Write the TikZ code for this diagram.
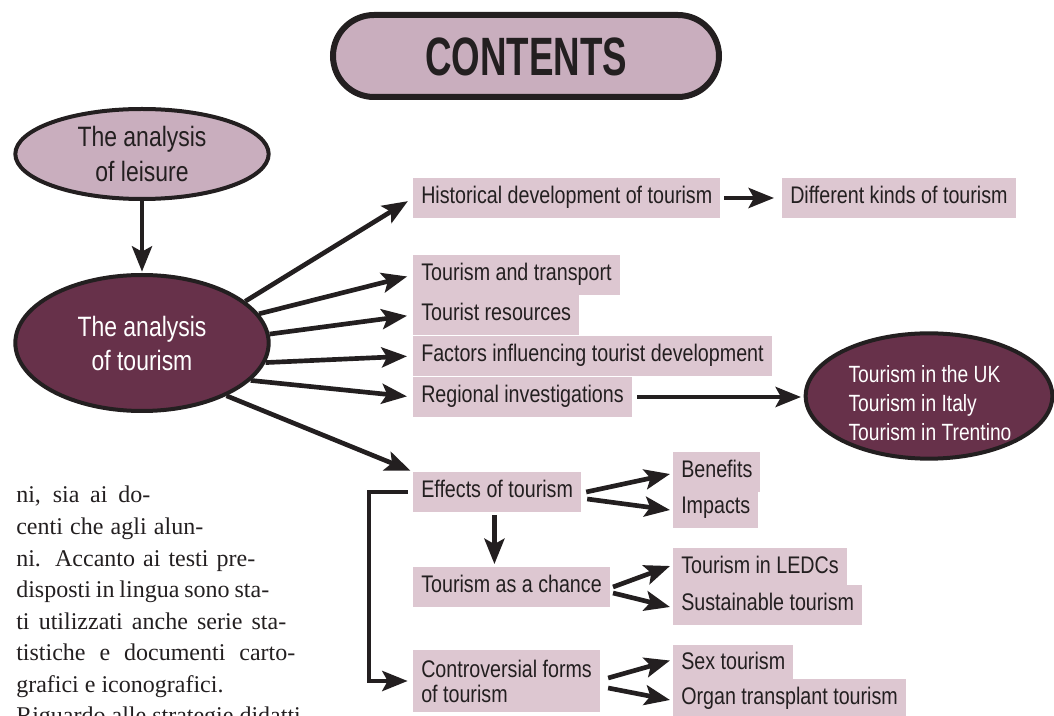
\documentclass[tikz,border=0pt]{standalone}
\usepackage{fontspec}
\setmainfont{Liberation Serif}
\newfontfamily\narrow[FakeStretch=0.82]{Liberation Sans}
\newfontfamily\condfont[FakeStretch=0.68]{Liberation Sans}
\usetikzlibrary{arrows.meta,shapes.geometric}
\definecolor{mauve}{RGB}{201,174,190}
\definecolor{boxpink}{RGB}{221,199,209}
\definecolor{plum}{RGB}{103,49,74}
\definecolor{ink}{RGB}{35,31,32}
\tikzset{
  topic/.style={fill=boxpink, text=ink, anchor=west, inner xsep=6pt, inner ysep=6pt,
    text height=12.9pt, text depth=5.1pt, font=\narrow\fontsize{18pt}{20pt}\selectfont},
  topictwo/.style={fill=boxpink, text=ink, anchor=west, inner xsep=6pt, inner ysep=0pt,
    minimum height=46.5pt, align=left, font=\narrow\fontsize{18pt}{18.75pt}\selectfont},
  arr/.style={draw=ink, line width=3.5pt, -{Stealth[length=19pt,width=15pt,inset=4pt]}},
  bigell/.style={ellipse, draw=ink, line width=3pt, inner sep=0pt, align=center},
  para/.style={anchor=base west, inner sep=0pt, text=ink, font=\fontsize{18pt}{22pt}\selectfont}
}
\begin{document}
\begin{tikzpicture}[x=0.75pt,y=-0.75pt]
\useasboundingbox (0,0) rectangle (1054,716);
\clip (0,0) rectangle (1054,716);

% title
\node[draw=ink, line width=4.5pt, fill=mauve, rounded corners=30.75pt,
  minimum width=289.5pt, minimum height=61.5pt, inner sep=0pt,
  text height=29pt, text depth=0pt, text=ink,
  font=\condfont\bfseries\fontsize{40.5pt}{44pt}\selectfont] (title) at (526,56) {CONTENTS};

% ellipses
\node[bigell, fill=mauve, text=ink, minimum width=190pt, minimum height=67.5pt,
  font=\narrow\fontsize{21pt}{26.25pt}\selectfont] (leis) at (142,154) {The analysis\\of leisure};
\node[bigell, fill=plum, text=white, minimum width=190pt, minimum height=102pt,
  font=\narrow\fontsize{21pt}{25.5pt}\selectfont] (tour) at (142,343) {The analysis\\of tourism};
\node[bigell, fill=plum, minimum width=185pt, minimum height=94pt] (uk) at (929,396) {};
\node[align=left, text=white, inner sep=0pt, font=\narrow\fontsize{17.6pt}{21.75pt}\selectfont]
  (uktxt) at (930,403) {Tourism in the UK\\Tourism in Italy\\Tourism in Trentino};

% topic boxes
\node[topic] (hist) at (413,198) {Historical development of tourism};
\node[topic] (diff) at (782,198) {Different kinds of tourism};
\node[topic] (trans) at (413,275) {Tourism and transport};
\node[topic] (res) at (413,315) {Tourist resources};
\node[topic] (fact) at (413,356) {Factors influencing tourist development};
\node[topic] (reg) at (413,397) {Regional investigations};
\node[topic] (eff) at (413,492) {Effects of tourism};
\node[topic] (ben) at (673,472) {Benefits};
\node[topic] (imp) at (673,508) {Impacts};
\node[topic] (chance) at (413,587) {Tourism as a chance};
\node[topic] (ledc) at (673,568) {Tourism in LEDCs};
\node[topic] (sust) at (673,605) {Sustainable tourism};
\node[topictwo] (contr) at (413,681) {Controversial forms\\of tourism};
\node[topic] (sex) at (673,664.5) {Sex tourism};
\node[topic] (organ) at (673,699) {Organ transplant tourism};

% connectors
\draw[arr, shorten >=1pt] (leis.south) -- (tour.north);
\draw[arr, shorten >=4.5pt] (tour.22) -- (hist.west);
\draw[arr, shorten >=4.5pt] (tour.14) -- (trans.west);
\draw[arr, shorten >=4.5pt] (tour.4) -- (res.west);
\draw[arr, shorten >=4.5pt] (tour.-9) -- (fact.west);
\draw[arr, shorten >=4.5pt] (tour.-19) -- (reg.west);
\draw[arr, shorten >=2pt] (tour.-32) -- (eff.north west);
\draw[arr, shorten <=3pt, shorten >=6pt] (hist.east) -- (diff.west);
\draw[arr, shorten <=4pt, shorten >=2pt] (reg.east) -- (reg.east -| uk.west);
\draw[arr] ([shift={(5,0)}]eff.east) -- ([shift={(-3,2)}]ben.west);
\draw[arr] ([shift={(6,7)}]eff.east) -- ([shift={(-3,2)}]imp.west);
\draw[arr, shorten <=2pt, shorten >=2pt] ([xshift=-2pt]eff.south) -- ([xshift=-2pt]eff.south |- chance.north);
\draw[arr] ([shift={(3,0)}]chance.east) -- ([shift={(-3,-2)}]ledc.west);
\draw[arr] ([shift={(3,6)}]chance.east) -- ([shift={(-3,2)}]sust.west);
\draw[arr] ([shift={(8,-3)}]contr.east) -- ([shift={(-3,-4)}]sex.west);
\draw[arr] ([shift={(8,7)}]contr.east) -- ([shift={(-3,1)}]organ.west);
\draw[arr, shorten <=4pt, shorten >=4pt] (eff.west) -- ++(-44,0) |- (contr.west);

% Italian text
\node[para] (p1) at (16,503) {\makebox[100.5pt][s]{ni, sia ai do-}};
\node[para] (p2) at (16,534.5) {\makebox[140.25pt][s]{centi che agli alun-}};
\node[para] (p3) at (16,566) {\makebox[179.25pt][s]{ni. Accanto ai testi pre-}};
\node[para] (p4) at (16,597.5) {\makebox[189.75pt][s]{disposti in lingua sono sta-}};
\node[para] (p5) at (16,629) {\makebox[202.5pt][s]{ti utilizzati anche serie sta-}};
\node[para] (p6) at (16,660.5) {\makebox[209.25pt][s]{tistiche e documenti carto-}};
\node[para] (p7) at (16,692) {grafici e iconografici.};
\node[para] (p8) at (16,723.5) {Riguardo alle strategie didatti};
\end{tikzpicture}
\end{document}
